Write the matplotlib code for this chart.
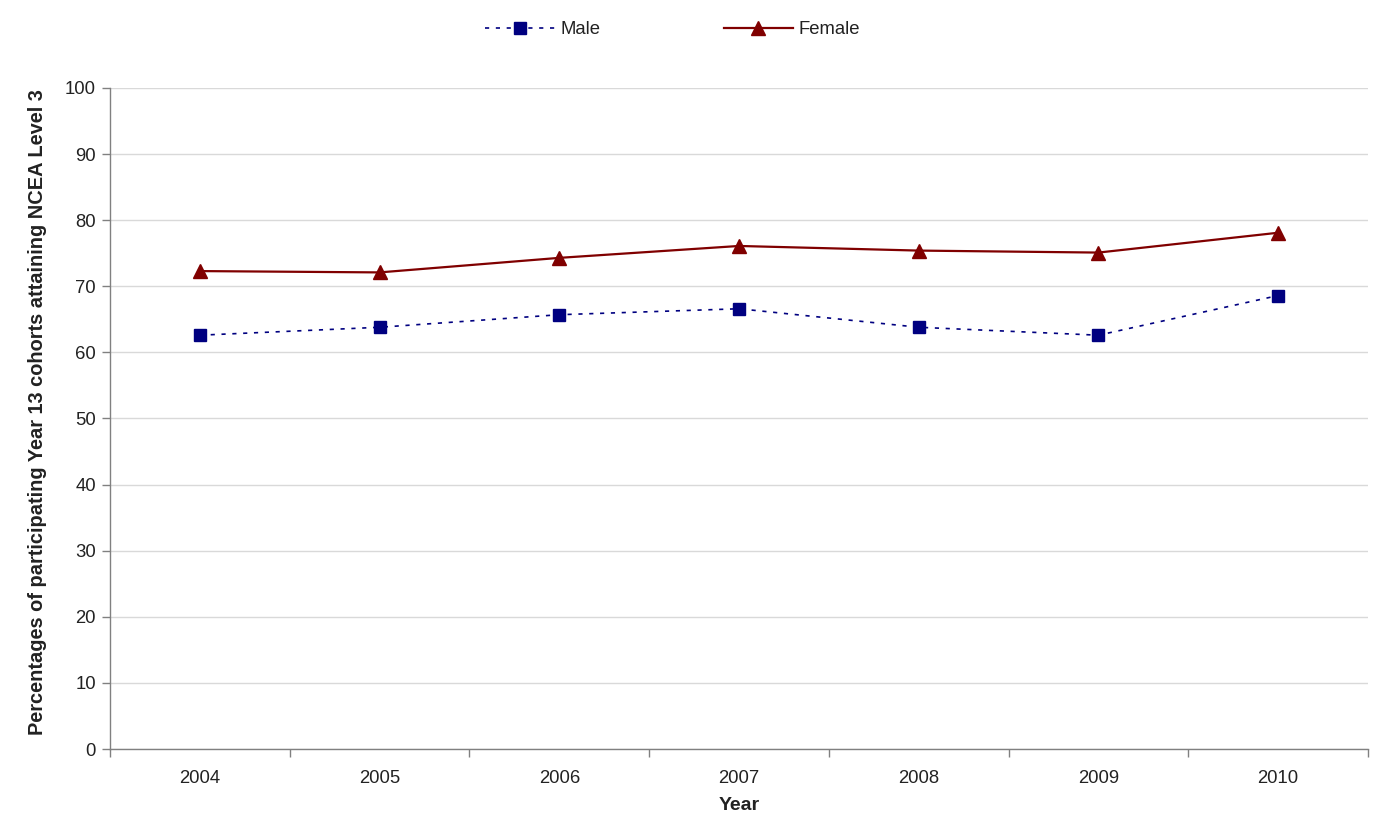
import matplotlib
matplotlib.use("Agg")
import matplotlib.pyplot as plt
from matplotlib.ticker import FixedLocator, NullFormatter

plt.rcParams['font.family'] = ['Liberation Sans', 'DejaVu Sans']

years = ["2004", "2005", "2006", "2007", "2008", "2009", "2010"]
male = [62.6, 63.8, 65.7, 66.6, 63.8, 62.6, 68.6]
female = [72.3, 72.1, 74.3, 76.1, 75.4, 75.1, 78.1]
y_ticks = [0, 10, 20, 30, 40, 50, 60, 70, 80, 90, 100]

fig = plt.figure(figsize=(13.87, 8.33), dpi=100)
ax = fig.add_axes([0.0793, 0.1008, 0.9070, 0.7936])

x = list(range(len(years)))
ax.plot(x, male, color="#000080", linestyle=(0, (2.5, 4)), linewidth=1.2,
        marker="s", markersize=8, markerfacecolor="#000080",
        markeredgecolor="#000080", label="Male", zorder=3)
ax.plot(x, female, color="#800000", linestyle="-", linewidth=1.6,
        marker="^", markersize=10, markerfacecolor="#800000",
        markeredgecolor="#800000", label="Female", zorder=3)

ax.set_xlim(-0.5, len(years) - 0.5)
ax.set_ylim(0, 100)
ax.set_yticks(y_ticks)
ax.set_xticks(x)
ax.set_xticklabels(years)
ax.xaxis.set_minor_locator(FixedLocator([i - 0.5 for i in range(len(years) + 1)]))
ax.xaxis.set_minor_formatter(NullFormatter())
ax.tick_params(axis="x", which="major", length=0, pad=15, labelsize=13.3, colors="#222222")
ax.tick_params(axis="x", which="minor", length=6, width=1, color="#808080", direction="out")
ax.tick_params(axis="y", length=6, width=1, color="#808080", direction="out",
               labelsize=13.3, labelcolor="#222222", pad=4)

ax.grid(axis="y", color="#d9d9d9", linewidth=1)
ax.set_axisbelow(True)
for side in ("top", "right"):
    ax.spines[side].set_visible(False)
for side in ("left", "bottom"):
    ax.spines[side].set_color("#808080")
    ax.spines[side].set_linewidth(1)

ax.set_xlabel("Year", fontsize=14, fontweight="bold", color="#222222", labelpad=7)
ax.set_ylabel("Percentages of participating Year 13 cohorts attaining NCEA Level 3",
              fontsize=14.4, fontweight="bold", color="#222222")
ax.yaxis.set_label_coords(-0.0503, 0.51)

fig.legend(loc="center", bbox_to_anchor=(0.485, 0.964), ncol=2, frameon=False,
           fontsize=13.3, handlelength=3.75, columnspacing=6.7, handletextpad=0.3,
           labelcolor="#222222")

fig.savefig("out.png", dpi=100, facecolor="white")
